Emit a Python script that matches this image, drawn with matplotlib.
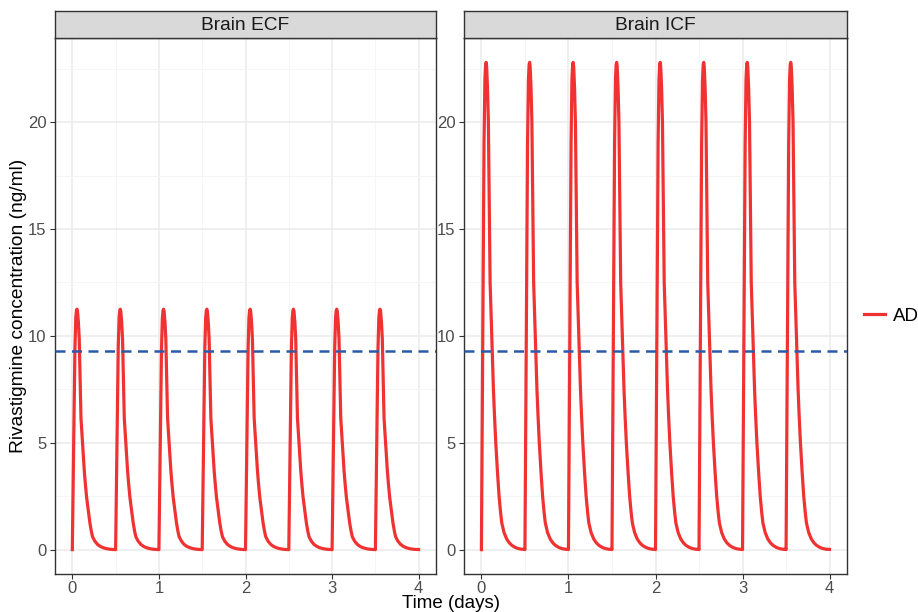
import numpy as np
import matplotlib.pyplot as plt
from matplotlib.lines import Line2D

# dosing schedule (days) and one dosing-interval profile (days after dose)
dose_times = [0.0, 0.5, 1.0, 1.5, 2.0, 2.5, 3.0, 3.5]
t_after_dose = [0.000, 0.010, 0.020, 0.030, 0.040, 0.048, 0.054, 0.060, 0.070, 0.080,
                0.086, 0.092, 0.100, 0.110, 0.119, 0.128, 0.138, 0.150, 0.165, 0.185,
                0.203, 0.220, 0.234, 0.260, 0.290, 0.320, 0.350, 0.390, 0.425, 0.460, 0.499]
conc_ecf = [0.0, 3.2, 6.4, 9.4, 10.85, 11.2, 11.25, 11.15, 10.65, 9.85,
            8.7, 7.4, 6.15, 5.5, 4.95, 4.35, 3.7, 3.1, 2.45, 1.8,
            1.25, 0.85, 0.6, 0.4, 0.25, 0.16, 0.1, 0.05, 0.025, 0.01, 0.005]
conc_icf = [0.0, 6.5, 13.0, 19.0, 22.0, 22.7, 22.8, 22.6, 21.6, 20.0,
            17.6, 15.0, 12.5, 11.1, 10.0, 8.8, 7.5, 6.3, 5.0, 3.6,
            2.5, 1.75, 1.25, 0.8, 0.5, 0.32, 0.2, 0.1, 0.05, 0.02, 0.01]
threshold = 9.3

panels = [("Brain ECF", conc_ecf), ("Brain ICF", conc_icf)]

RED = "#F03232"
BLUE = "#2B5BA8"
plt.rcParams["font.family"] = ["Liberation Sans", "DejaVu Sans"]


def repeat_doses(profile):
    t, c = [], []
    for d in dose_times:
        t.extend(d + np.array(t_after_dose))
        c.extend(profile)
    return np.array(t), np.array(c)


fig = plt.figure(figsize=(9.18, 6.12), dpi=100)
W, H = 918, 612

ymax = max(max(conc_ecf), max(conc_icf))
ylim = (-0.05 * ymax, 1.05 * ymax)

panel_x = [(55, 436), (464, 847)]
top, bottom = 38, 574
strip_top = 11

for (name, profile), (x0, x1) in zip(panels, panel_x):
    ax = fig.add_axes([x0 / W, 1 - bottom / H, (x1 - x0) / W, (bottom - top) / H])
    t, c = repeat_doses(profile)
    ax.plot(t, c, color=RED, lw=2.3, solid_joinstyle="round", zorder=3)
    ax.axhline(threshold, color=BLUE, lw=1.8, ls=(0, (4, 2.6)), zorder=4)

    ax.set_xlim(-0.2, 4.2)
    ax.set_ylim(*ylim)
    ax.set_xticks([0, 1, 2, 3, 4])
    ax.set_yticks([0, 5, 10, 15, 20])
    ax.set_xticks(np.arange(0.5, 4, 1), minor=True)
    ax.set_yticks(np.arange(2.5, 23, 5), minor=True)
    ax.grid(which="major", color="#EBEBEB", lw=1.1)
    ax.grid(which="minor", color="#F4F4F4", lw=0.6)
    ax.set_axisbelow(True)
    ax.tick_params(which="major", length=3.5, width=0.8, color="#333333",
                   labelsize=12, labelcolor="#4D4D4D", pad=2.5)
    ax.tick_params(axis="x", which="major", pad=1.2)
    ax.tick_params(which="minor", length=0)
    for s in ax.spines.values():
        s.set_color("#333333")
        s.set_linewidth(1.0)

    # facet strip
    sax = fig.add_axes([x0 / W, 1 - top / H, (x1 - x0) / W, (top - strip_top) / H])
    sax.set_facecolor("#D9D9D9")
    sax.set_xticks([])
    sax.set_yticks([])
    for s in sax.spines.values():
        s.set_color("#333333")
        s.set_linewidth(1.0)
    sax.text(0.5, 0.47, name, ha="center", va="center", fontsize=13.8,
             color="#1A1A1A", transform=sax.transAxes)

fig.text(19 / W, 1 - ((top + bottom) / 2) / H, "Rivastigmine concentration (ng/ml)",
         rotation=90, ha="center", va="center", fontsize=13.8)
fig.text((55 + 847) / 2 / W, 3.5 / H, "Time (days)", ha="center", va="baseline",
         fontsize=13.5)

fig.legend(handles=[Line2D([0], [0], color=RED, lw=2.3)], labels=["AD"],
           loc="center left", bbox_to_anchor=(864 / W, 1 - 316 / H), frameon=False,
           fontsize=13.5, handlelength=1.1, handletextpad=0.45,
           borderpad=0, borderaxespad=0)

fig.savefig("out.png", dpi=100)
